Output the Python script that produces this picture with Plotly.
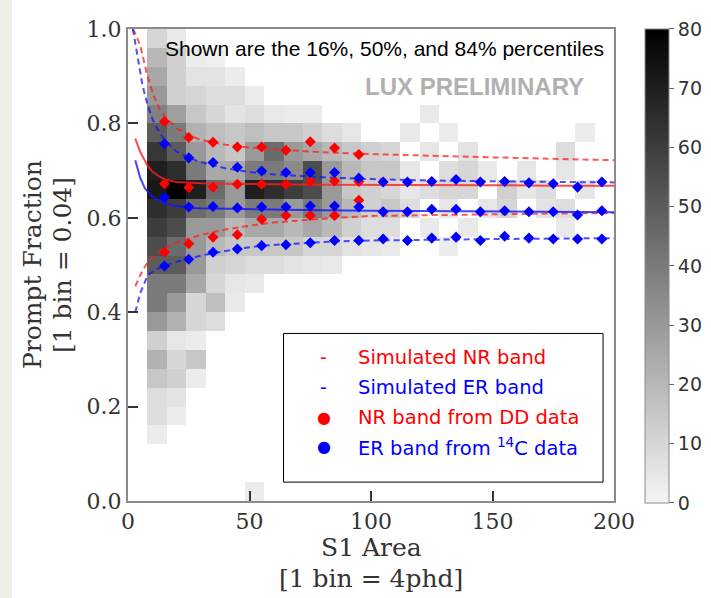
import plotly.graph_objects as go

# ---------------- data ----------------
s1_bin_centers = [4, 12, 20, 28, 36, 44, 52, 60, 68, 76, 84, 92, 100, 108, 116, 124,
                  132, 140, 148, 156, 164, 172, 180, 188, 196]
pf_bin_centers = [0.02, 0.06, 0.10, 0.14, 0.18, 0.22, 0.26, 0.30, 0.34, 0.38, 0.42,
                  0.46, 0.50, 0.54, 0.58, 0.62, 0.66, 0.70, 0.74, 0.78, 0.82, 0.86,
                  0.90, 0.94, 0.98]

# counts, rows listed from top (0.96-1.00) to bottom (0.00-0.04)
counts_top_down = [
    [0, 10, 4, 0, 0, 0, 0, 0, 0, 0, 0, 0, 0, 0, 0, 0, 0, 0, 0, 0, 0, 0, 0, 0, 0],
    [0, 20, 12, 3, 2, 0, 0, 0, 0, 0, 0, 0, 0, 0, 0, 0, 0, 0, 0, 0, 0, 0, 0, 0, 0],
    [0, 25, 12, 6, 6, 3, 0, 0, 0, 0, 0, 0, 0, 0, 0, 0, 0, 0, 0, 0, 0, 0, 0, 0, 0],
    [0, 30, 12, 10, 8, 8, 3, 0, 0, 0, 0, 0, 0, 0, 0, 0, 0, 0, 0, 0, 0, 0, 0, 0, 0],
    [0, 38, 28, 15, 10, 6, 8, 4, 3, 3, 0, 0, 0, 0, 0, 4, 0, 0, 0, 0, 0, 0, 0, 0, 0],
    [0, 50, 40, 22, 18, 15, 18, 15, 15, 12, 8, 5, 0, 0, 4, 0, 3, 0, 0, 0, 0, 0, 0, 3, 0],
    [0, 62, 50, 30, 20, 15, 30, 45, 30, 25, 20, 15, 12, 10, 0, 5, 0, 6, 0, 0, 0, 0, 8, 0, 0],
    [0, 70, 65, 40, 25, 25, 40, 40, 35, 55, 30, 20, 15, 15, 5, 0, 8, 10, 4, 0, 5, 0, 5, 0, 0],
    [0, 72, 80, 70, 45, 30, 70, 65, 60, 55, 30, 15, 12, 10, 5, 8, 10, 10, 0, 12, 5, 8, 0, 5, 0],
    [0, 65, 60, 45, 40, 30, 40, 40, 30, 40, 30, 20, 12, 15, 8, 0, 5, 0, 5, 10, 0, 6, 8, 0, 0],
    [0, 60, 55, 30, 30, 20, 25, 25, 20, 25, 20, 12, 8, 8, 0, 4, 0, 4, 0, 0, 0, 0, 4, 0, 0],
    [0, 55, 45, 30, 20, 15, 15, 15, 15, 10, 10, 6, 5, 4, 0, 0, 3, 0, 0, 0, 0, 0, 0, 0, 0],
    [0, 50, 50, 30, 12, 10, 8, 8, 6, 5, 4, 0, 0, 0, 0, 0, 0, 0, 0, 0, 0, 0, 0, 0, 0],
    [0, 40, 40, 25, 10, 5, 4, 0, 0, 0, 0, 0, 0, 0, 0, 0, 0, 0, 0, 0, 0, 0, 0, 0, 0],
    [0, 40, 30, 10, 18, 4, 0, 0, 0, 0, 0, 0, 0, 0, 0, 0, 0, 0, 0, 0, 0, 0, 0, 0, 0],
    [0, 30, 22, 10, 8, 0, 0, 0, 0, 0, 0, 0, 0, 0, 0, 0, 0, 0, 0, 0, 0, 0, 0, 0, 0],
    [0, 12, 5, 3, 0, 0, 0, 0, 0, 0, 0, 0, 0, 0, 0, 0, 0, 0, 0, 0, 0, 0, 0, 0, 0],
    [0, 22, 10, 15, 0, 0, 0, 0, 0, 0, 0, 0, 0, 0, 0, 0, 0, 0, 0, 0, 0, 0, 0, 0, 0],
    [0, 15, 12, 3, 0, 0, 0, 0, 0, 0, 0, 0, 0, 0, 0, 0, 0, 0, 0, 0, 0, 0, 0, 0, 0],
    [0, 8, 6, 0, 0, 0, 0, 0, 0, 0, 0, 0, 0, 0, 0, 0, 0, 0, 0, 0, 0, 0, 0, 0, 0],
    [0, 8, 3, 0, 0, 0, 0, 0, 0, 0, 0, 0, 0, 0, 0, 0, 0, 0, 0, 0, 0, 0, 0, 0, 0],
    [0, 3, 0, 0, 0, 0, 0, 0, 0, 0, 0, 0, 0, 0, 0, 0, 0, 0, 0, 0, 0, 0, 0, 0, 0],
    [0, 0, 0, 0, 0, 0, 0, 0, 0, 0, 0, 0, 0, 0, 0, 0, 0, 0, 0, 0, 0, 0, 0, 0, 0],
    [0, 0, 0, 0, 0, 0, 0, 0, 0, 0, 0, 0, 0, 0, 0, 0, 0, 0, 0, 0, 0, 0, 0, 0, 0],
    [0, 0, 0, 0, 0, 0, 3, 0, 0, 0, 0, 0, 0, 0, 0, 0, 0, 0, 0, 0, 0, 0, 0, 0, 0],
]

# simulated bands (percentile curves)
nr_hi_x = [2, 3, 5, 8, 10.5, 13, 16, 20, 25, 30, 40, 50, 60, 80, 100, 125, 150, 175, 200]
nr_hi_y = [1.0, 0.99, 0.966, 0.90, 0.86, 0.83, 0.81, 0.79, 0.775, 0.765, 0.755, 0.749,
           0.745, 0.739, 0.735, 0.731, 0.728, 0.725, 0.722]
nr_med_x = [3, 5, 8, 10, 13, 16, 20, 25, 30, 40, 50, 60, 80, 100, 125, 150, 175, 200]
nr_med_y = [0.768, 0.74, 0.711, 0.698, 0.687, 0.68, 0.676, 0.674, 0.673, 0.672, 0.672,
            0.671, 0.670, 0.670, 0.669, 0.669, 0.668, 0.668]
nr_lo_x = [3, 5, 7, 9, 12, 15, 20, 26, 30, 40, 52, 60, 80, 100, 125, 150, 175, 200]
nr_lo_y = [0.455, 0.478, 0.497, 0.512, 0.525, 0.535, 0.548, 0.558, 0.564, 0.575, 0.585,
           0.590, 0.598, 0.604, 0.606, 0.608, 0.609, 0.610]

er_hi_x = [2, 3, 4, 5, 6, 8, 10, 13, 16, 20, 25, 30, 40, 50, 60, 80, 100, 125, 150, 175, 200]
er_hi_y = [1.0, 0.97, 0.94, 0.91, 0.88, 0.84, 0.81, 0.78, 0.76, 0.74, 0.727, 0.718, 0.705,
           0.697, 0.692, 0.686, 0.682, 0.679, 0.677, 0.676, 0.675]
er_med_x = [3, 5, 7, 10, 13, 16, 20, 26, 30, 40, 50, 60, 80, 100, 125, 150, 175, 200]
er_med_y = [0.722, 0.685, 0.662, 0.645, 0.635, 0.629, 0.625, 0.621, 0.620, 0.619, 0.618,
            0.617, 0.616, 0.615, 0.614, 0.613, 0.613, 0.612]
er_lo_x = [3, 5, 8, 11, 15, 20, 25, 30, 35, 45, 55, 70, 85, 100, 125, 150, 175, 200]
er_lo_y = [0.40, 0.44, 0.477, 0.49, 0.498, 0.507, 0.513, 0.52, 0.525, 0.534, 0.541, 0.546,
           0.55, 0.552, 0.554, 0.555, 0.556, 0.557]

# measured bands
dd_x = [15, 25, 35, 45, 55, 65, 75, 85, 95]
dd_hi = [0.804, 0.770, 0.760, 0.750, 0.750, 0.743, 0.761, 0.748, 0.734]
dd_med = [0.672, 0.664, 0.665, 0.671, 0.671, 0.671, 0.677, 0.678, 0.677]
dd_lo = [0.527, 0.545, 0.559, 0.564, 0.597, 0.605, 0.605, 0.605, 0.637]

c14_x = [15, 25, 35, 45, 55, 65, 75, 85, 95, 105, 115, 125, 135, 145, 155, 165, 175, 185, 195]
c14_hi = [0.757, 0.727, 0.717, 0.707, 0.699, 0.696, 0.696, 0.696, 0.684, 0.676, 0.676,
          0.677, 0.681, 0.676, 0.677, 0.674, 0.672, 0.665, 0.676]
c14_med = [0.643, 0.623, 0.624, 0.621, 0.623, 0.623, 0.625, 0.625, 0.623, 0.613, 0.613,
           0.618, 0.618, 0.613, 0.615, 0.613, 0.613, 0.606, 0.615]
c14_lo = [0.498, 0.512, 0.527, 0.534, 0.541, 0.543, 0.547, 0.552, 0.552, 0.555, 0.552,
          0.557, 0.559, 0.552, 0.561, 0.557, 0.555, 0.555, 0.555]

x_ticks = [0, 50, 100, 150, 200]
y_ticks = [0.0, 0.2, 0.4, 0.6, 0.8, 1.0]
cbar_ticks = [0, 10, 20, 30, 40, 50, 60, 70, 80]

legend_labels = ["Simulated NR band", "Simulated ER band", "NR band from DD data",
                 "ER band from <sup>14</sup>C data"]
legend_symbols = ["-", "-", "\u25CF", "\u25CF"]

# ---------------- figure ----------------
RED = "#ff0000"
BLUE = "#0000ff"
z = [[(v if v > 0 else None) for v in row] for row in counts_top_down[::-1]]

fig = go.Figure()
fig.add_trace(go.Heatmap(
    x=s1_bin_centers, y=pf_bin_centers, z=z, zmin=0, zmax=80,
    colorscale=[[0, "#f5f5f5"], [1, "#000000"]], hoverongaps=False,
    colorbar=dict(x=1.0638, xanchor="left", xpad=0, y=0.498, yanchor="middle", ypad=0,
                  len=1.004, lenmode="fraction", thickness=24, thicknessmode="pixels",
                  outlinecolor="#8a8a8a", outlinewidth=1, tickvals=cbar_ticks,
                  ticks="outside", ticklen=5, tickcolor="#666",
                  tickfont=dict(family="DejaVu Sans", size=19, color="#333")),
))

dash_style = "6px,4px"
for xs, ys, col, dash in [
    (nr_hi_x, nr_hi_y, "rgba(255,30,30,0.75)", dash_style),
    (nr_lo_x, nr_lo_y, "rgba(255,30,30,0.75)", dash_style),
    (nr_med_x, nr_med_y, "rgba(255,30,30,0.8)", "solid"),
    (er_hi_x, er_hi_y, "rgba(20,20,255,0.75)", dash_style),
    (er_lo_x, er_lo_y, "rgba(20,20,255,0.75)", dash_style),
    (er_med_x, er_med_y, "rgba(20,20,255,0.8)", "solid"),
]:
    fig.add_trace(go.Scatter(x=xs, y=ys, mode="lines", line=dict(color=col, width=2, dash=dash),
                             showlegend=False, hoverinfo="skip"))

for ys in (dd_hi, dd_med, dd_lo):
    fig.add_trace(go.Scatter(x=dd_x, y=ys, mode="markers", showlegend=False,
                             marker=dict(symbol="diamond", size=8.5, color=RED)))
for ys in (c14_hi, c14_med, c14_lo):
    fig.add_trace(go.Scatter(x=c14_x, y=ys, mode="markers", showlegend=False,
                             marker=dict(symbol="diamond", size=8.5, color=BLUE)))

serif = "DejaVu Serif"
axis_common = dict(showgrid=False, zeroline=False, showline=True, linecolor="#8a8a8a",
                   linewidth=2, mirror=True, ticks="inside", ticklen=10, tickwidth=2,
                   tickcolor="#333", automargin=False,
                   tickfont=dict(family=serif, size=22, color="#333"))
fig.update_xaxes(range=[0, 200], tickvals=x_ticks, **axis_common)
fig.update_yaxes(range=[0, 1.0], tickvals=y_ticks, tickformat=".1f", **axis_common)

# legend box
fig.add_shape(type="rect", x0=64, x1=195.5, y0=0.040, y1=0.355, xref="x", yref="y",
              line=dict(color="black", width=1), fillcolor="white", layer="above")

legend_y = [0.305, 0.241, 0.177, 0.115]
legend_colors = [RED, BLUE, RED, BLUE]
annotations = []
for lab, sym, ly, col in zip(legend_labels, legend_symbols, legend_y, legend_colors):
    annotations.append(dict(x=80.5, y=ly, xref="x", yref="y", text=sym, showarrow=False,
                            font=dict(family="DejaVu Sans", size=19 if sym == "-" else 16, color=col),
                            xanchor="center", yanchor="middle"))
    annotations.append(dict(x=94, y=ly, xref="x", yref="y", text=lab, showarrow=False,
                            font=dict(family="DejaVu Sans", size=19.5, color=col),
                            xanchor="left", yanchor="middle"))

annotations += [
    dict(x=0.528, y=1.0, xref="paper", yref="y", yshift=-19,
         text="Shown are the 16%, 50%, and 84% percentiles", showarrow=False,
         font=dict(family="Liberation Sans", size=21, color="black"),
         xanchor="center", yanchor="middle"),
    dict(x=0.712, y=1.0, xref="paper", yref="y", yshift=-57, text="<b>LUX PRELIMINARY</b>",
         showarrow=False, font=dict(family="Liberation Sans", size=24, color="#b0b0b0"),
         xanchor="center", yanchor="middle"),
    dict(x=0.5, y=0, xref="paper", yref="paper", yshift=-46, text="S1 Area",
         showarrow=False, font=dict(family=serif, size=25, color="#333"),
         xanchor="center", yanchor="middle"),
    dict(x=0.5, y=0, xref="paper", yref="paper", yshift=-77, text="[1 bin = 4phd]",
         showarrow=False, font=dict(family=serif, size=25, color="#333"),
         xanchor="center", yanchor="middle"),
    dict(x=0, y=0.5, xref="paper", yref="paper", xshift=-96, text="Prompt Fraction",
         textangle=-90, showarrow=False, font=dict(family=serif, size=25, color="#333"),
         xanchor="center", yanchor="middle"),
    dict(x=0, y=0.5, xref="paper", yref="paper", xshift=-66, text="[1 bin = 0.04]",
         textangle=-90, showarrow=False, font=dict(family=serif, size=25, color="#333"),
         xanchor="center", yanchor="middle"),
]

fig.add_shape(type="rect", xref="paper", yref="paper", x0=-0.2634, x1=-0.2387, y0=-0.3,
              y1=1.1, line=dict(width=0), fillcolor="#f1eee8", layer="below")

fig.update_layout(width=711, height=598,
                  margin=dict(l=128, r=97, t=29, b=97, autoexpand=False),
                  paper_bgcolor="white", plot_bgcolor="white", showlegend=False,
                  annotations=annotations)

fig.write_html("out.html", config={"displayModeBar": False},
               post_script="document.body.style.margin='0px';")
